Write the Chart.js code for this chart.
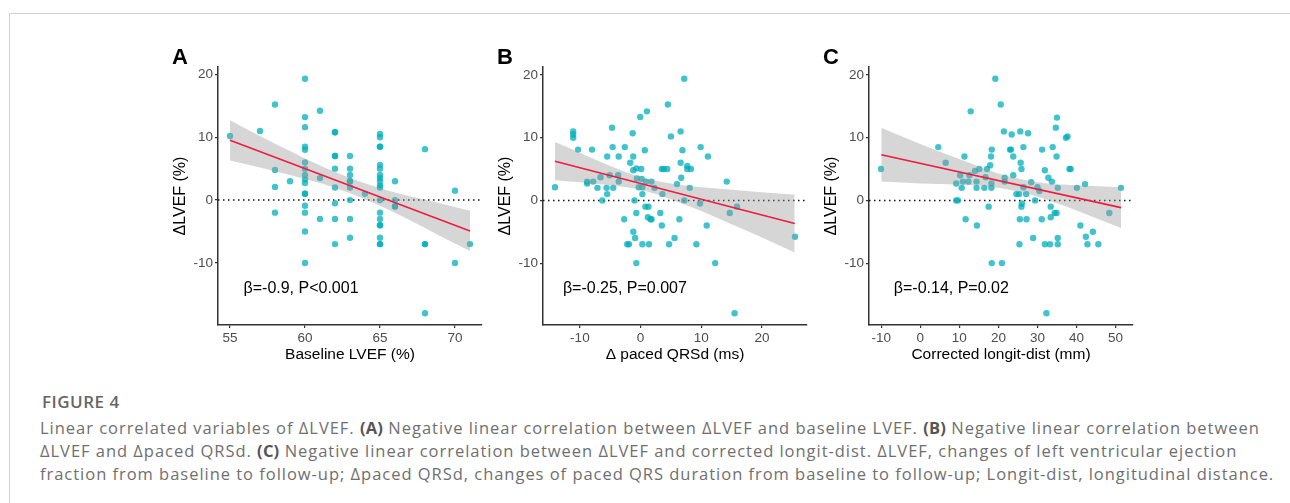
<!DOCTYPE html>
<html>
<head>
<meta charset="utf-8">
<script src="https://cdn.jsdelivr.net/npm/chart.js@4.4.1/dist/chart.umd.min.js"></script>
<style>
  body { margin: 0; background: #fff; width: 1290px; height: 503px; overflow: hidden; position: relative; }
  .frame { position: absolute; left: 9px; top: 13px; right: -5px; bottom: -5px; border-top: 1px solid #d2d2d2; border-left: 1px solid #d2d2d2; }
  .panel { position: absolute; top: 40px; width: 330px; height: 330px; }
  #figNum { position: absolute; left: 42px; top: 390px; line-height: 22px; font: 600 17px "Open Sans", sans-serif; color: #666; letter-spacing: 0.5px; }
  #caption { position: absolute; left: 40px; top: 416px; line-height: 23px; font: 16.5px "Open Sans", sans-serif; color: #6f6f6f; white-space: nowrap; letter-spacing: 0.97px; }
  #caption b { color: #555; font-weight: 700; letter-spacing: 0.2px; }
</style>
</head>
<body>
<div class="frame"></div>
<div class="panel" style="left:160px"><canvas id="chartA"></canvas></div>
<div class="panel" style="left:485px"><canvas id="chartB"></canvas></div>
<div class="panel" style="left:811px"><canvas id="chartC"></canvas></div>
<div id="figNum">FIGURE 4</div>
<div id="caption">Linear correlated variables of ΔLVEF. <b>(A)</b> Negative linear correlation between ΔLVEF and baseline LVEF. <b>(B)</b> Negative linear correlation between<br>ΔLVEF and Δpaced QRSd. <b>(C)</b> Negative linear correlation between ΔLVEF and corrected longit-dist. ΔLVEF, changes of left ventricular ejection<br>fraction from baseline to follow-up; Δpaced QRSd, changes of paced QRS duration from baseline to follow-up; Longit-dist, longitudinal distance.</div>
<script>
// Panel A: baseline LVEF vs delta LVEF
const aX = [55, 57, 58, 58, 58, 58, 59,
  60, 60, 60, 60, 60, 60, 60, 60, 60, 60, 60, 60, 60, 60, 60, 60,
  61, 61, 61,
  62, 62, 62, 62, 62, 62, 62, 62, 62,
  63, 63, 63, 63, 63, 63, 63, 63, 63,
  64,
  65, 65, 65, 65, 65, 65, 65, 65, 65, 65, 65, 65, 65, 65, 65, 65, 65, 65, 65,
  66, 66, 66, 66,
  68, 68, 68, 68,
  70, 70, 71];
const aY = [10.2, 11.0, 15.2, 4.8, 2.1, -2.0, 3.0,
  19.3, 13.2, 11.6, 8.5, 8.0, 6.0, 5.0, 4.0, 3.3, 2.7, 1.0, 1.0, -0.9, -2.0, -5.0, -10,
  14.2, 3.5, -3.0,
  10.8, 10.8, 7.0, 7.0, 5.0, 2.0, -0.5, -3.0, -7.0,
  7.0, 5.0, 4.0, 3.0, 3.0, 2.0, 0, -3.0, -6.0,
  1.0,
  10.5, 10.0, 8.5, 8.5, 5.6, 5.0, 4.0, 3.5, 3.0, 2.3, 2.0, 0, -2.0, -3.0, -4.0, -4.0, -6.0, -7.0, -7.0,
  3.0, 0, -1.0, -1.0,
  8.1, -7.0, -7.0, -18,
  1.5, -10, -7.0];
const aFitX = [55, 71];
const aFitY = [9.5, -4.9];
const aBandX = [55, 57, 59, 61, 63, 65, 67, 69, 71];
const aBandHi = [12.7, 10.2, 7.8, 5.5, 3.5, 1.9, 0.6, -0.5, -1.7];
const aBandLo = [6.3, 5.2, 4.0, 2.7, 1.1, -0.9, -3.2, -5.7, -8.1];
const aTicks = [55, 60, 65, 70];

// Panel B: delta paced QRSd vs delta LVEF
const bX = [-14.1, -11.1, -11.1, -11.1, -10.3, -8.8, -8.8, -8.0, -7.8, -7.1, -6.6, -6.3, -5.6, -5.5, -5.5,
  -5.1, -4.7, -4.6, -4.5, -3.6, -3.7, -3.6, -2.6, -2.7, -2.2, -1.9, -1.7, -1.3, -1.2, -1.2, -1.2,
  -1.0, -0.9, -0.7, -0.7, -0.7, -0.6, -0.3, -0.05, 0.1, 0.2, 0.3, 0.3, 0.3, 0.7, 0.8, 0.9, 1.05,
  1.2, 1.3, 1.4, 1.65, 1.8, 1.8, 2.3, 3.25, 3.5, 3.6, 3.5, 3.8, 4.5, 4.4, 4.7, 5.0, 5.6, 6.0,
  6.4, 6.6, 6.6, 6.7, 6.9, 7.2, 7.2, 7.7, 7.7, 8.1, 8.3, 9.2, 9.8, 9.9, 11.1, 10.9, 12.3,
  14.2, 14.7, 15.9, 15.5, 25.45];
const bY = [2.1, 11.0, 10.5, 10.0, 8.1, 3.0, 2.7, 8.1, 3.0, 2.0, 3.7, 0, 2.0, 1.0, 7.0,
  4.0, 11.6, 8.5, 2.0, 7.0, 4.0, 3.0, 8.5, -3.0, -7.0, -7.0, 6.0, 10.7, 7.0, 4.8, -5.0,
  0, -6.0, 5.1, -2.0, -10, 3.5, 2.1, 13.3, 5.0, 3.4, -7.0, 2.1, 1.0, 8.0, -1.0, 3.0, 14.2,
  -2.7, -1.0, -7.0, -3.0, -3.0, 3.0, 2.0, -2.0, 5.0, 1.0, -4.0, 5.0, 15.3, 5.0, -7.0, 10.2, -6.0, 2.6,
  -3.0, 6.0, 11.0, 3.6, 8.0, 19.4, 0, 5.5, 5.0, 2.0, 5.0, -7.0, -0.5, 8.5, 7.0, -4.0, -10,
  3.0, -2.0, -1.0, -18, -5.8];
const bFitX = [-14.1, 25.4];
const bFitY = [6.25, -3.7];
const bBandX = [-14.1, -10, -5, 0, 5, 10, 15, 20, 25.4];
const bBandHi = [9.3, 7.6, 5.5, 3.7, 2.7, 2.1, 1.7, 1.3, 0.9];
const bBandLo = [3.2, 2.9, 2.4, 1.7, 0.2, -1.7, -3.8, -5.9, -8.3];
const bTicks = [-10, 0, 10, 20];

// Panel C: corrected longit-dist vs delta LVEF
const cX = [-10.07, 4.6, 6.5, 9.2, 9.2, 9.6, 10.2, 10.6, 11.3, 10.9, 11.6, 12.9, 12.3, 12.6, 14.0,
  14.4, 14.4, 14.5, 15.1, 16.4, 16.7, 17.1, 17.5, 17.9, 18.1, 18.2, 18.2, 18.3, 18.3, 19.2, 20.6,
  20.9, 21.4, 21.6, 21.6, 23.0, 23.2, 23.4, 23.8, 23.8, 24.6, 25.3, 25.4, 25.5, 25.6, 25.7, 25.9,
  25.9, 26.0, 26.4, 26.4, 27.1, 27.2, 27.6, 28.4, 28.9, 29.4, 30.0, 30.5, 31.1, 31.2, 31.9, 31.9,
  32.3, 32.8, 33.2, 33.4, 33.4, 33.7, 33.9, 34.4, 34.9, 34.7, 34.9, 35.0, 35.2, 35.2, 35.2, 37.3,
  37.7, 38.2, 38.5, 40.1, 41.0, 42.2, 42.4, 42.8, 44.2, 45.6, 48.4, 51.4];
const cY = [5.0, 8.5, 6.0, 2.7, 0, 0, 4.0, 2.0, 7.0, 3.0, -3.0, 14.2, 3.0, 4.0, 4.7,
  3.0, 2.0, -4.0, 5.0, 2.0, 3.7, 5.0, -1.0, 5.6, 7.0, 2.7, 2.0, 8.1, -10, 19.4, 15.3,
  -10, 11.0, 3.6, 3.0, 8.1, 8.1, 10.5, 7.0, 4.0, 1.0, 1.0, -7.0, -3.0, 11.0, 6.0, 5.0,
  -1.0, -0.5, 8.5, 2.1, 1.0, -3.0, 10.7, 2.9, -6.0, 0, 2.1, 1.5, -3.0, 8.1, 4.8, -7.0,
  -18, 3.6, -7.0, -1.0, -2.7, 3.0, 8.5, -2.0, -2.0, 11.6, 7.0, 13.2, -6.0, -7.0, 2.0, 10.0,
  10.2, 5.0, 5.0, 2.0, -4.0, 2.6, -5.8, -7.0, -5.0, -7.0, -2.0, 2.0];
const cFitX = [-10, 51.4];
const cFitY = [7.27, -1.15];
const cBandX = [-10, 0, 10, 20, 30, 40, 51.4];
const cBandHi = [11.6, 9.0, 6.6, 4.3, 2.9, 2.4, 2.1];
const cBandLo = [3.0, 2.7, 2.5, 2.0, 0.6, -1.6, -4.4];
const cTicks = [-10, 0, 10, 20, 30, 40, 50];

const yTicks = [-10, 0, 10, 20];
const notes = ['β=-0.9, P<0.001', 'β=-0.25, P=0.007', 'β=-0.14, P=0.02'];
const noteX = [55.9, -12.8, -6.8];
const noteY = -14.1;

const FONT = '"Liberation Sans", Arial, sans-serif';

function pts(xs, ys) {
  return xs.map((x, i) => ({ x: x, y: ys[i] }));
}

// ggplot style 5% expansion
function expand(vals) {
  const lo = Math.min(...vals), hi = Math.max(...vals);
  const d = (hi - lo) * 0.05;
  return [lo - d, hi + d];
}

const zeroLine = {
  id: 'zeroLine',
  beforeDatasetsDraw(chart) {
    const { ctx, chartArea: a, scales: { y } } = chart;
    const py = y.getPixelForValue(0);
    ctx.save();
    ctx.strokeStyle = '#111';
    ctx.lineWidth = 1.5;
    ctx.setLineDash([1.5, 3.5]);
    ctx.beginPath();
    ctx.moveTo(a.left, py);
    ctx.lineTo(a.right, py);
    ctx.stroke();
    ctx.restore();
  }
};

const panelText = {
  id: 'panelText',
  afterDraw(chart, args, opts) {
    const { ctx, chartArea: a, scales: { x, y } } = chart;
    ctx.save();
    ctx.fillStyle = '#000';
    ctx.textBaseline = 'middle';
    ctx.textAlign = 'left';
    ctx.font = 'bold 22px ' + FONT;
    ctx.fillText(opts.letter, a.left - 46, a.top - 9.5);
    ctx.font = '16px ' + FONT;
    ctx.fillText(opts.note, x.getPixelForValue(opts.noteX), y.getPixelForValue(opts.noteY));
    ctx.restore();
  }
};

function makePanel(id, letter, xs, ys, fitX, fitY, bandX, bandHi, bandLo, ticks, xTitle, idx) {
  const xr = expand(xs);
  const yr = expand(ys);
  return new Chart(document.getElementById(id), {
    type: 'scatter',
    data: {
      datasets: [{
        type: 'line',
        data: pts(bandX, bandHi),
        fill: '+1',
        backgroundColor: 'rgba(153,153,153,0.4)',
        borderWidth: 0,
        pointRadius: 0,
        cubicInterpolationMode: 'monotone',
        order: 2
      }, {
        type: 'line',
        data: pts(bandX, bandLo),
        fill: false,
        borderWidth: 0,
        pointRadius: 0,
        cubicInterpolationMode: 'monotone',
        order: 2
      }, {
        data: pts(xs, ys),
        backgroundColor: 'rgba(0,175,187,0.75)',
        borderWidth: 0,
        pointRadius: 3.2,
        order: 3
      }, {
        type: 'line',
        data: pts(fitX, fitY),
        borderColor: '#ee1c40',
        borderWidth: 1.6,
        pointRadius: 0,
        fill: false,
        order: 1
      }]
    },
    options: {
      responsive: true,
      maintainAspectRatio: false,
      animation: false,
      layout: { padding: { top: 27, right: 8, left: 0, bottom: 0 } },
      plugins: {
        legend: { display: false },
        tooltip: { enabled: false },
        panelText: { letter: letter, note: notes[idx], noteX: noteX[idx], noteY: noteY }
      },
      scales: {
        x: {
          type: 'linear',
          min: xr[0],
          max: xr[1],
          afterBuildTicks: s => { s.ticks = ticks.map(v => ({ value: v })); },
          afterFit: s => { s.height = 45; },
          grid: { drawOnChartArea: false, drawTicks: true, tickLength: 3, color: '#333', lineWidth: 1.2 },
          border: { color: '#333', width: 1.5 },
          ticks: { color: '#4d4d4d', font: { size: 13.5, family: FONT }, padding: 2, maxRotation: 0, autoSkip: false },
          title: { display: true, text: xTitle, color: '#000', font: { size: 15.5, family: FONT }, padding: { top: 0, bottom: 6 } }
        },
        y: {
          type: 'linear',
          min: yr[0],
          max: yr[1],
          afterBuildTicks: s => { s.ticks = yTicks.map(v => ({ value: v })); },
          afterFit: s => { s.width = 58; },
          grid: { drawOnChartArea: false, drawTicks: true, tickLength: 3, color: '#333', lineWidth: 1.2 },
          border: { color: '#333', width: 1.5 },
          ticks: { color: '#4d4d4d', font: { size: 13.5, family: FONT }, padding: 2 },
          title: { display: true, text: 'ΔLVEF (%)', color: '#000', font: { size: 16, family: FONT }, padding: { top: 11, bottom: 0 } }
        }
      }
    },
    plugins: [zeroLine, panelText]
  });
}

makePanel('chartA', 'A', aX, aY, aFitX, aFitY, aBandX, aBandHi, aBandLo, aTicks, 'Baseline LVEF (%)', 0);
makePanel('chartB', 'B', bX, bY, bFitX, bFitY, bBandX, bBandHi, bBandLo, bTicks, 'Δ paced QRSd (ms)', 1);
makePanel('chartC', 'C', cX, cY, cFitX, cFitY, cBandX, cBandHi, cBandLo, cTicks, 'Corrected longit-dist (mm)', 2);
</script>
</body>
</html>
